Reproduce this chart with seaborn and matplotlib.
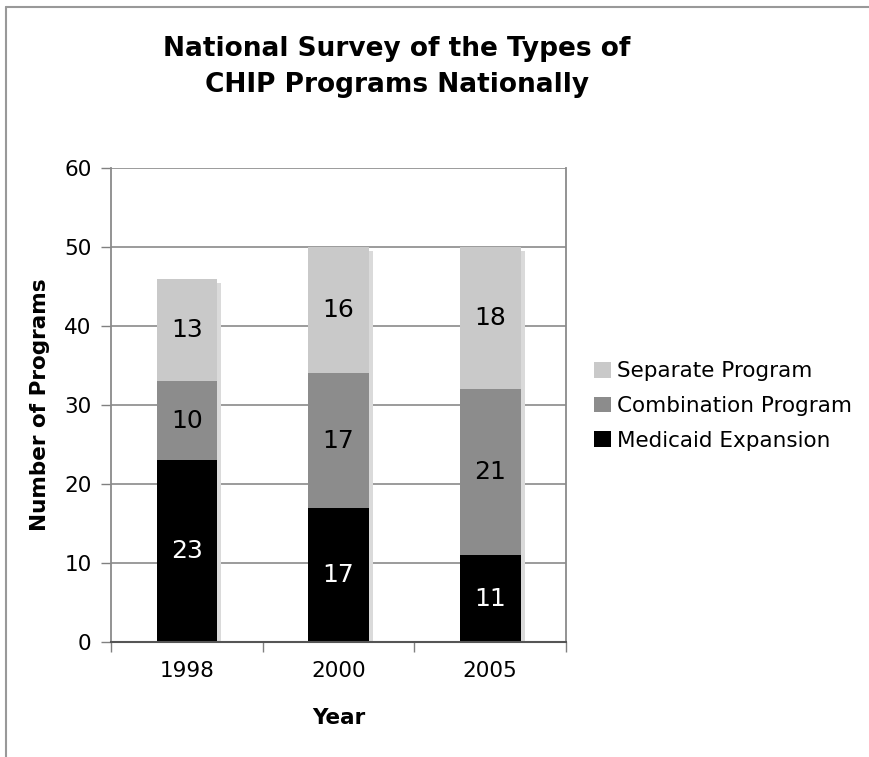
import matplotlib
matplotlib.use("Agg")
import matplotlib.pyplot as plt
import matplotlib.transforms as mtransforms
from matplotlib.patches import Patch
from matplotlib.lines import Line2D
import seaborn as sns
import pandas as pd
import numpy as np

years = ["1998", "2000", "2005"]
medicaid = [23, 17, 11]
combination = [10, 17, 21]
separate = [13, 16, 18]

series_names = ["Medicaid Expansion", "Combination Program", "Separate Program"]
series_colors = ["#000000", "#8c8c8c", "#c9c9c9"]
label_colors = ["white", "black", "black"]
shadow_color = "#dadada"

sns.set_theme(style="white")
plt.rcParams["font.family"] = ["DejaVu Sans"]
plt.rcParams["text.color"] = "black"
plt.rcParams["axes.labelcolor"] = "black"

fig = plt.figure(figsize=(8.69, 7.57), dpi=100)
ax = fig.add_axes([111 / 869, 1 - 642 / 757, 455 / 869, 474 / 757])

df = pd.DataFrame({"Year": years, "Medicaid": medicaid,
                   "Combination": combination, "Separate": separate})
df["Total"] = df["Medicaid"] + df["Combination"] + df["Separate"]

bar_w = 0.4

# drop shadow behind each stack
sns.barplot(data=df, x="Year", y="Total", color=shadow_color, width=bar_w,
            saturation=1, ax=ax, zorder=1)
shift = mtransforms.ScaledTranslation(4 / 100, -4 / 100, fig.dpi_scale_trans)
for p in list(ax.patches):
    p.set_transform(ax.transData + shift)
    p.set_edgecolor("none")

bottom = np.zeros(len(years))
cols = ["Medicaid", "Combination", "Separate"]
for col, color, tcol in zip(cols, series_colors, label_colors):
    n_before = len(ax.patches)
    sns.barplot(data=df, x="Year", y=col, color=color, width=bar_w,
                saturation=1, ax=ax, zorder=2, bottom=bottom)
    for p in ax.patches[n_before:]:
        p.set_edgecolor("none")
    for i, v in enumerate(df[col]):
        ax.text(i, bottom[i] + v / 2, f"{v}", ha="center", va="center",
                fontsize=18, color=tcol, zorder=3)
    bottom = bottom + df[col].values

ax.set_xlim(-0.5, 2.5)
ax.set_ylim(0, 60)
ax.set_yticks(np.arange(0, 61, 10))
ax.yaxis.grid(True, color="#8a8a8a", linewidth=1.2, zorder=0)
ax.set_axisbelow(True)

ax.set_xticks([0, 1, 2])
ax.set_xticklabels(years)
ax.set_xticks([-0.5, 0.5, 1.5, 2.5], minor=True)
ax.tick_params(axis="x", which="major", length=0, pad=14, labelsize=15.5,
               labelcolor="black")
ax.tick_params(axis="x", which="minor", length=7, width=1, color="#808080",
               direction="out", bottom=True)
ax.tick_params(axis="y", length=7, width=1, color="#808080", direction="out",
               left=True, pad=7, labelsize=15.5, labelcolor="black")

for s in ["left", "right"]:
    ax.spines[s].set_visible(True)
    ax.spines[s].set_color("#8a8a8a")
    ax.spines[s].set_linewidth(1.3)
ax.spines["bottom"].set_color("#555555")
ax.spines["bottom"].set_linewidth(1.5)
ax.spines["top"].set_visible(False)

ax.set_xlabel("Year", fontsize=15.5, fontweight="bold", labelpad=19)
ax.set_ylabel("Number of Programs", fontsize=15.5, fontweight="bold",
              labelpad=10)

fig.text(397 / 869, 1 - 67 / 757,
         "National Survey of the Types of\nCHIP Programs Nationally",
         ha="center", va="center", fontsize=19, fontweight="bold",
         linespacing=1.45)

handles = [Patch(facecolor=c, edgecolor="none")
           for c in series_colors[::-1]]
fig.legend(handles, series_names[::-1], loc="center left",
           bbox_to_anchor=(575 / 869, 1 - 406 / 757), frameon=False,
           fontsize=15.5, handlelength=0.75, handleheight=0.75,
           handletextpad=0.3, labelspacing=0.68)

# page frame lines
fig.add_artist(Line2D([6 / 869, 1], [1 - 7 / 757, 1 - 7 / 757],
                      transform=fig.transFigure, color="#999999", lw=1.5))
fig.add_artist(Line2D([6 / 869, 6 / 869], [0, 1 - 7 / 757],
                      transform=fig.transFigure, color="#999999", lw=1.5))

fig.savefig("out.png", dpi=100)
